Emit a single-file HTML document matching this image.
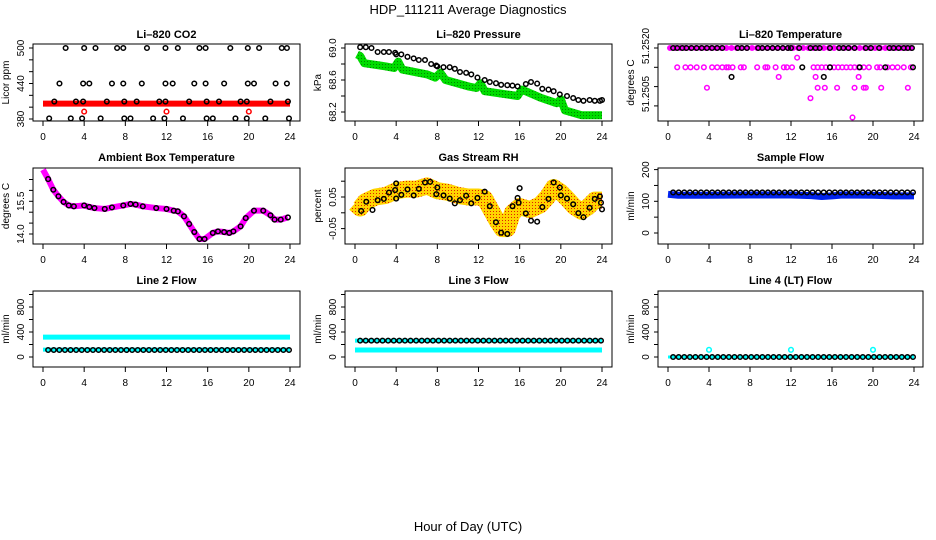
<!DOCTYPE html>
<html><head><meta charset="utf-8"><style>
html,body{margin:0;padding:0;background:#fff;}
svg{display:block;font-family:"Liberation Sans",Arial,sans-serif;}
</style></head><body>
<svg id="chart" width="936" height="540" viewBox="0 0 936 540" xmlns="http://www.w3.org/2000/svg">
<defs>
<pattern id="rhPat" width="3" height="3" patternUnits="userSpaceOnUse"><rect width="3" height="3" fill="#ffd400"/><rect x="1" y="1" width="1" height="1" fill="#e02000"/></pattern>
<pattern id="grPat" width="3" height="3" patternUnits="userSpaceOnUse"><rect width="3" height="3" fill="#00dd00"/><rect x="1" y="1" width="1" height="1" fill="#008800"/></pattern>
</defs>
<text x="468" y="14" text-anchor="middle" font-size="13">HDP_111211  Average Diagnostics</text>
<text x="468" y="531" text-anchor="middle" font-size="13">Hour of Day (UTC)</text>
</svg>
<script>
// ---------- data ----------
const xTicks = [0,4,8,12,16,20,24];
// CO2 (Licor ppm)
const co2Hi = [2.2,4.0,5.1,7.2,7.8,10.1,11.9,13.1,15.2,15.8,18.2,19.9,21.0,23.2,23.7];
const co2Mid = [1.6,3.9,4.5,6.7,7.8,9.6,11.9,12.6,14.7,15.8,17.6,19.9,20.5,22.6,23.7];
const co2Band = [1.1,3.2,3.9,6.2,7.9,9.1,11.3,11.9,14.2,15.9,17.1,19.2,19.8,22.1,23.8];
const co2Low = [0.6,2.7,3.8,5.6,7.9,8.5,10.7,11.8,13.6,15.9,16.5,18.7,19.8,21.6,23.9];
const co2Vals = [500,440,409.5,381];
const co2RedHours = [4,12,20];
const co2RedVal = 392.5;
const co2RedBand = 406;
// Pressure
const presHours = [0.5,1.05,1.6,2.2,2.8,3.3,3.9,4,4.5,5.1,5.7,6.2,6.8,7.4,7.9,8,8.6,9.2,9.7,10.2,10.8,11.3,11.9,12.6,13.1,13.7,14.2,14.8,15.3,15.8,16.6,17.1,17.7,18.2,18.8,19.3,19.9,20.6,21.2,21.7,22.2,22.8,23.3,23.8,24];
const presVals = [69.01,69.01,69.0,68.95,68.95,68.95,68.94,68.92,68.92,68.89,68.87,68.85,68.85,68.80,68.78,68.77,68.76,68.76,68.74,68.70,68.69,68.67,68.63,68.60,68.575,68.56,68.54,68.535,68.53,68.52,68.55,68.575,68.555,68.49,68.48,68.46,68.42,68.40,68.375,68.35,68.34,68.35,68.34,68.34,68.35];
const presBandHours = [0.2,0.5,0.9,3.0,3.8,4.2,4.6,7.0,7.8,8.3,8.8,11.0,11.8,12.2,12.6,15.8,16.2,18.0,19.6,20.0,20.4,22.0,24];
const presBandVals = [68.92,68.9,68.81,68.77,68.75,68.83,68.73,68.67,68.63,68.69,68.6,68.52,68.5,68.56,68.46,68.4,68.48,68.38,68.31,68.36,68.22,68.16,68.16];
// Temperature
const tempTopHours = [0.2,0.7,1.2,1.7,2.2,2.7,3.2,3.7,4.2,4.7,5.2,5.7,6.2,6.7,7.2,7.7,8.2,8.7,9.2,9.7,10.2,10.7,11.2,11.7,12.2,12.7,13.2,13.7,14.2,14.7,15.2,15.7,16.2,16.7,17.2,17.7,18.2,18.7,19.2,19.7,20.2,20.7,21.2,21.7,22.2,22.7,23.2,23.7];
const tempBlackTop = [0.5,0.9,1.4,1.8,2.3,2.8,3.3,3.8,4.3,4.8,5.3,6.8,7.2,7.7,8.8,9.2,9.7,10.2,10.7,11.2,11.7,12.0,12.8,13.9,14.4,14.8,15.8,16.7,17.1,17.6,18.2,19.3,19.8,20.6,21.6,22.0,22.5,23.0,23.4,23.8];
const tempBlackVal = 51.2520;
const tempMidHours = [0.9,1.7,2.2,2.8,3.5,4.3,4.8,5.3,5.7,5.9,6.3,7.1,7.4,8.7,9.5,9.7,10.5,11.3,11.6,12.1,14.2,14.6,15.0,15.4,15.8,16.2,16.6,17.0,17.4,17.8,18.2,18.6,19.1,19.6,20.4,20.7,21.4,21.9,22.4,23.0,23.7];
const tempMidVal = 51.2515;
const tempBlackMid = [13.1,15.8,18.7,21.2,23.9];
const tempBlackLow = [6.2,15.2];
const tempLowVal = 51.25125;
const tempPinkLow = [10.8,14.4,18.6];
const tempPink2 = [3.8,14.6,15.3,16.5,18.2,19.1,19.3,20.8,23.4];
const tempPink2Val = 51.25097;
const tempPinkOut = [[12.6,51.25175],[13.9,51.2507],[18.0,51.2502]];
// Ambient box temperature
const ambHours = [0.5,1,1.5,2,2.5,3,4,4.5,5,6,6.7,7.8,8.5,9,9.7,11,12,12.7,13.1,13.7,14.2,14.7,15.2,15.7,16.5,17,17.6,18.1,18.5,19.2,19.7,20.5,21.4,22.1,22.5,23.1,23.8];
const ambVals = [16.52,16.03,15.73,15.47,15.31,15.27,15.31,15.24,15.19,15.15,15.22,15.31,15.38,15.35,15.27,15.19,15.15,15.07,15.04,14.81,14.46,14.09,13.77,13.77,14.05,14.12,14.09,14.05,14.12,14.35,14.73,15.07,15.07,14.86,14.66,14.66,14.76];
const ambStart = [0,16.95];
// Gas stream RH
const rhHours = [0.6,1.1,1.7,2.2,2.8,3.3,3.9,4,4,4.5,5.1,5.7,6.2,6.8,7.3,7.9,8,8.6,9.2,9.7,10.2,10.8,11.3,11.9,12.6,13.1,13.7,14.2,14.8,15.3,15.8,16,15.9,16.6,17.1,17.7,18.2,18.8,19.3,19.9,20,20.6,21.2,21.7,22.2,22.8,23.3,23.8,23.9,24];
const rhVals = [0.006,0.035,0.009,0.04,0.044,0.064,0.072,0.093,0.045,0.057,0.074,0.055,0.076,0.096,0.098,0.059,0.08,0.055,0.045,0.03,0.04,0.054,0.03,0.047,0.067,0.021,-0.03,-0.063,-0.067,0.021,0.047,0.078,0.032,-0.002,-0.025,-0.028,0.018,0.044,0.096,0.08,0.055,0.045,0.027,-0.001,-0.014,0.016,0.044,0.052,0.032,0.011];
const rhBandHours = [0,0.5,1,2,3,4,5,6,7,8,9,10,11,12,12.6,13.2,13.8,14.3,14.8,15.3,16,17,18,18.7,19.3,20,20.6,21.3,22,22.7,23.3,24];
const rhBandVals = [0.03,0.015,0.035,0.05,0.055,0.07,0.075,0.075,0.085,0.07,0.065,0.055,0.05,0.05,0.045,0.01,-0.025,-0.05,-0.05,0.0,0.02,0.01,0.025,0.05,0.08,0.065,0.045,0.02,0.005,0.02,0.04,0.04];
// Sample flow
const sampleBlack = 128;
const sampleBandHours = [0,1,4,8,12,14,15,16,17,20,22,24];
const sampleBandVals = [122,119,119,120,120,118,115,117,120,119,117,117];
// Line flows
const line2Band = 318, line2Black = 112, line2CyanLow = 118;
const line3Black = 262, line3Band = 112;
const line4Black = 0, line4Cyan = 0;
const line4Spikes = [4,12,20];
const line4SpikeVal = 115;

// ---------- helpers ----------
const svg = document.getElementById('chart');
const NS = 'http://www.w3.org/2000/svg';
function mk(tag, attrs, parent){const e=document.createElementNS(NS,tag);for(const k in attrs)e.setAttribute(k,attrs[k]);(parent||svg).appendChild(e);return e;}
const cols=[{bx0:33,bx1:300,ax0:43,ax1:290},{bx0:345,bx1:612,ax0:355,ax1:602},{bx0:658,bx1:923,ax0:668,ax1:914}];
const rows=[{by0:44,by1:121,ty:38},{by0:168,by1:244,ty:161},{by0:291,by1:367,ty:284}];

function panel(r,c,name,title,ylab,yFn,yTicks,yLabels){
  const C=cols[c],R=rows[r];
  const g=mk('g',{});
  
  
  const xs=h=>C.ax0+(C.ax1-C.ax0)*h/24;
  const t=mk('text',{x:(C.bx0+C.bx1)/2,y:R.ty,'text-anchor':'middle','font-size':'11','font-weight':'bold'},g);
  t.textContent=title;
  
  
  const plot=mk('g',{},g);
  
  
  const box=mk('rect',{x:C.bx0,y:R.by0,width:C.bx1-C.bx0,height:R.by1-R.by0,fill:'none',stroke:'#000','stroke-width':1},g);
  
  
  const xa=mk('g',{},g);
  
  
  xTicks.forEach(v=>{
    const x=xs(v);
    mk('line',{x1:x,x2:x,y1:R.by1,y2:R.by1+5,stroke:'#000'},xa);
    const tl=mk('text',{x:x,y:R.by1+19,'text-anchor':'middle','font-size':'10'},xa);
    tl.textContent=v;
  });
  const ya=mk('g',{},g);
  
  
  yTicks.forEach(v=>{const y=yFn(v);mk('line',{x1:C.bx0-4,x2:C.bx0,y1:y,y2:y,stroke:'#000'},ya);});
  yLabels.forEach(([txt,y])=>{
    const tl=mk('text',{x:0,y:0,'text-anchor':'middle','font-size':'10',transform:`translate(${C.bx0-9},${y}) rotate(-90)`},ya);
    tl.textContent=txt;
  });
  const yl=mk('text',{x:0,y:0,'text-anchor':'middle','font-size':'10',transform:`translate(${C.bx0-24},${(R.by0+R.by1)/2}) rotate(-90)`},g);
  yl.textContent=ylab;
  
  
  const clip=mk('clipPath',{id:'clip'+r+c},g);
  mk('rect',{x:C.bx0,y:R.by0,width:C.bx1-C.bx0,height:R.by1-R.by0},clip);
  plot.setAttribute('clip-path','url(#clip'+r+c+')');
  return {plot,xs,ys:yFn};
}
function pt(p,x,y,col,r,sw){return mk('circle',{cx:x,cy:y,r:r||2.3,fill:'none',stroke:col,'stroke-width':sw||1.5},p);}
function band(p,pts,col,w){return mk('polyline',{points:pts.map(q=>q.join(',')).join(' '),fill:'none',stroke:col,'stroke-width':w,'stroke-linejoin':'round','stroke-linecap':'butt'},p);}
function grid(n){const a=[];for(let i=0;i<n;i++)a.push(0.5+i*(23.4/(n-1)));return a;}

// ---------- CO2 ----------
(function(){
  const ys=v=>48+(500-v)*71/120;
  const P=panel(0,0,'co2','Li\u2013820 CO2','Licor ppm',ys,[380,400,420,440,460,480,500],[['500',ys(500)],['440',ys(440)],['380',ys(380)]]);
  const b=band(P.plot,[[P.xs(0),P.ys(co2RedBand)],[P.xs(24),P.ys(co2RedBand)]],'#ff0000',6);
  
  
  co2RedHours.forEach(h=>{const c=pt(P.plot,P.xs(h),P.ys(co2RedVal),'#ff0000');
    
    });
  [co2Hi,co2Mid,co2Band,co2Low].forEach((arr,i)=>arr.forEach(h=>{const c=pt(P.plot,P.xs(h),P.ys(co2Vals[i]),'#000');
    
    }));
})();
// ---------- Pressure ----------
(function(){
  const ys=v=>48+(69.0-v)*80;
  const P=panel(0,1,'pressure','Li\u2013820 Pressure','kPa',ys,[68.2,68.4,68.6,68.8,69.0],[['69.0',ys(69.0)],['68.6',ys(68.6)],['68.2',ys(68.2)]]);
  const b=band(P.plot,presBandHours.map((h,i)=>[P.xs(h),P.ys(presBandVals[i])]),'url(#grPat)',8);
  
  
  presHours.forEach((h,i)=>{const c=pt(P.plot,P.xs(h),P.ys(presVals[i]),'#000');
    
    });
})();
// ---------- Temperature ----------
(function(){
  const ys=v=>48+(51.2520-v)*38600;
  const P=panel(0,2,'li820-temp','Li\u2013820 Temperature','degrees C',ys,[51.2520,51.2515,51.2510,51.2505],[['51.2520',46],['51.2505',94]]);
  tempTopHours.forEach(h=>{const c=pt(P.plot,P.xs(h),P.ys(51.2520),'#ff00ff');
    
    });
  const dense=band(P.plot,[[P.xs(0),P.ys(51.2520)],[P.xs(24),P.ys(51.2520)]],'#ff00ff',3);
  
  
  tempMidHours.forEach(h=>{const c=pt(P.plot,P.xs(h),P.ys(tempMidVal),'#ff00ff');
    
    });
  tempPinkLow.forEach(h=>{const c=pt(P.plot,P.xs(h),P.ys(tempLowVal),'#ff00ff');
    
    });
  tempPink2.forEach(h=>{const c=pt(P.plot,P.xs(h),P.ys(tempPink2Val),'#ff00ff');
    
    });
  tempPinkOut.forEach(([h,v])=>{const c=pt(P.plot,P.xs(h),P.ys(v),'#ff00ff');
    
    });
  tempBlackTop.forEach(h=>{const c=pt(P.plot,P.xs(h),P.ys(tempBlackVal),'#000');
    
    });
  tempBlackMid.forEach(h=>{const c=pt(P.plot,P.xs(h),P.ys(tempMidVal),'#000');
    
    });
  tempBlackLow.forEach(h=>{const c=pt(P.plot,P.xs(h),P.ys(tempLowVal),'#000');
    
    });
})();
// ---------- Ambient ----------
(function(){
  const ys=v=>234-(v-14)*21.8;
  const P=panel(1,0,'ambient-temp','Ambient Box Temperature','degrees C',ys,[14.0,14.5,15.0,15.5,16.0,16.5],[['15.5',ys(15.5)],['14.0',ys(14.0)]]);
  const pts=[[P.xs(ambStart[0]),P.ys(ambStart[1])]].concat(ambHours.map((h,i)=>[P.xs(h),P.ys(ambVals[i])]));
  const b=band(P.plot,pts,'#ff00ff',6);
  
  
  ambHours.forEach((h,i)=>{const c=pt(P.plot,P.xs(h),P.ys(ambVals[i]),'#000');
    
    });
})();
// ---------- RH ----------
(function(){
  const ys=v=>197-(v-0.05)*316;
  const P=panel(1,1,'gas-rh','Gas Stream RH','percent',ys,[-0.05,0,0.05,0.10],[['0.05',ys(0.05)],['-0.05',ys(-0.05)]]);
  const b=band(P.plot,rhBandHours.map((h,i)=>[P.xs(h),P.ys(rhBandVals[i])]),'url(#rhPat)',17);
  
  
  rhHours.forEach((h,i)=>{const c=pt(P.plot,P.xs(h),P.ys(rhVals[i]),'#000');
    
    });
})();
// ---------- Sample flow ----------
(function(){
  const ys=v=>233-v*0.317;
  const P=panel(1,2,'sample-flow','Sample Flow','ml/min',ys,[0,50,100,150,200],[['0',ys(0)],['100',ys(100)],['200',ys(200)]]);
  const b=band(P.plot,sampleBandHours.map((h,i)=>[P.xs(h),P.ys(sampleBandVals[i])]),'#0022ee',7);
  
  
  grid(44).forEach(h=>{const c=pt(P.plot,P.xs(h),P.ys(sampleBlack),'#000');
    
    });
})();
// ---------- Line flows ----------
function flowPanel(c,name,title){
  const ys=v=>357-v*0.0625;
  return panel(2,c,name,title,'ml/min',ys,[0,200,400,600,800,1000],[['0',ys(0)],['400',ys(400)],['800',ys(800)]]);
}
(function(){
  const P=flowPanel(0,'line2-flow','Line 2 Flow');
  const b=band(P.plot,[[P.xs(0),P.ys(line2Band)],[P.xs(24),P.ys(line2Band)]],'#00ffff',5);
  
  
  const b2=band(P.plot,[[P.xs(0),P.ys(line2CyanLow)],[P.xs(24),P.ys(line2CyanLow)]],'#00ffff',4);
  
  
  grid(44).forEach(h=>{const c=pt(P.plot,P.xs(h),P.ys(line2Black),'#000');
    
    });
})();
(function(){
  const P=flowPanel(1,'line3-flow','Line 3 Flow');
  const b=band(P.plot,[[P.xs(0),P.ys(line3Band)],[P.xs(24),P.ys(line3Band)]],'#00ffff',5);
  
  
  const b2=band(P.plot,[[P.xs(0),P.ys(line3Black)],[P.xs(24),P.ys(line3Black)]],'#00ffff',4);
  
  
  grid(44).forEach(h=>{const c=pt(P.plot,P.xs(h),P.ys(line3Black),'#000');
    
    });
})();
(function(){
  const P=flowPanel(2,'line4-flow','Line 4 (LT) Flow');
  const b=band(P.plot,[[P.xs(0),P.ys(line4Cyan)],[P.xs(24),P.ys(line4Cyan)]],'#00ffff',3);
  
  
  line4Spikes.forEach(h=>{const c=pt(P.plot,P.xs(h),P.ys(line4SpikeVal),'#00ffff');
    
    });
  grid(44).forEach(h=>{const c=pt(P.plot,P.xs(h),P.ys(line4Black),'#000');
    
    });
})();
</script>
</body></html>
